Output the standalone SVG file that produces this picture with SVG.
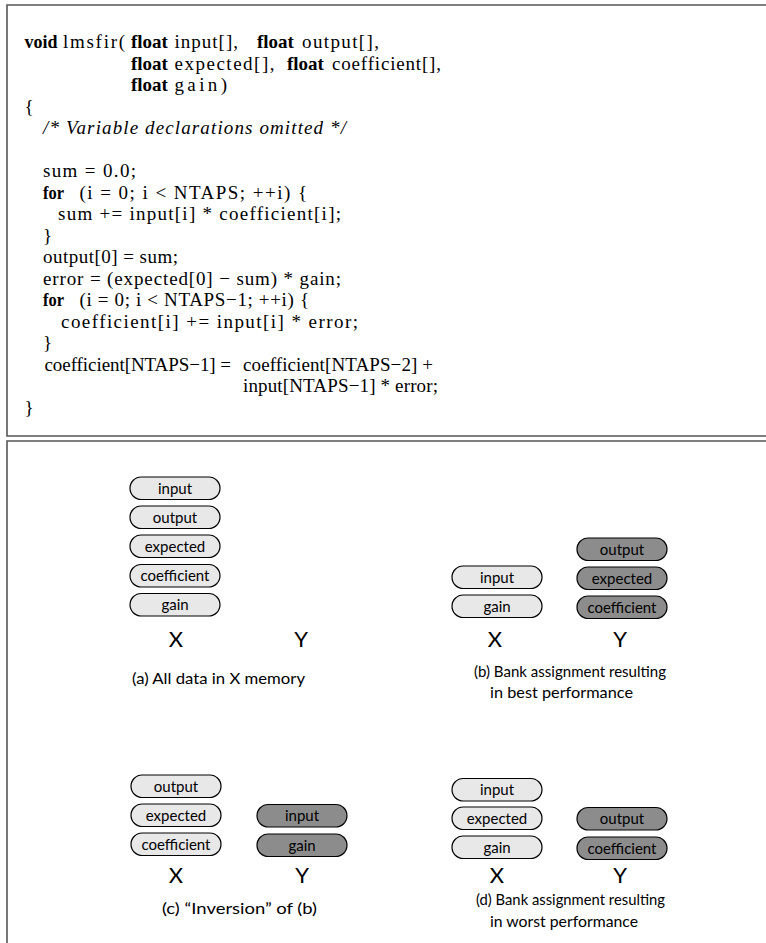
<svg xmlns="http://www.w3.org/2000/svg" width="766" height="943" viewBox="0 0 766 943">
<style>
.frame{fill:none;stroke:#555;stroke-width:1.6}
.c{font-family:"Liberation Serif",serif;font-size:19px;fill:#000}
.b{font-weight:bold}
.i{font-style:italic}
.pl{fill:#e8e8e8;stroke:#000;stroke-width:1.2}
.pd{fill:#8c8c8c;stroke:#000;stroke-width:1.2}
.pt{font-family:Lato,"Open Sans",sans-serif;font-size:15px;text-anchor:middle;fill:#000}
.xy{font-family:Lato,"Open Sans",sans-serif;font-size:22px;text-anchor:middle;fill:#000}
.cap{font-family:Lato,"Open Sans",sans-serif;font-size:16px;fill:#000}
</style>
<rect width="766" height="943" fill="#fff"/>
<path class="frame" d="M770 5H7V436H770"/>
<path class="frame" d="M770 441H7V950"/>

<g id="code">
<text class="c b" x="24.5" y="48" textLength="33" lengthAdjust="spacingAndGlyphs">void</text>
<text class="c" x="63" y="48" textLength="62" lengthAdjust="spacing">lmsfir(</text>
<text class="c b" x="131" y="48">float</text>
<text class="c" x="174.5" y="48" textLength="63.5" lengthAdjust="spacing">input[],</text>
<text class="c b" x="257" y="48">float</text>
<text class="c" x="302" y="48" textLength="77" lengthAdjust="spacing">output[],</text>

<text class="c b" x="131" y="69.5">float</text>
<text class="c" x="174.5" y="69.5" textLength="100" lengthAdjust="spacing">expected[],</text>
<text class="c b" x="287" y="69.5">float</text>
<text class="c" x="332" y="69.5" textLength="109" lengthAdjust="spacing">coefficient[],</text>

<text class="c b" x="131" y="91">float</text>
<text class="c" x="174.5" y="91" textLength="52.5" lengthAdjust="spacing">gain)</text>

<text class="c" x="24.5" y="112.5">{</text>
<text class="c i" x="43" y="134" textLength="303" lengthAdjust="spacing">/* Variable declarations omitted */</text>

<text class="c" x="43" y="177" textLength="93" lengthAdjust="spacing">sum = 0.0;</text>
<text class="c b" x="43" y="198.5" textLength="21" lengthAdjust="spacingAndGlyphs">for</text>
<text class="c" x="79.5" y="198.5" textLength="227.5" lengthAdjust="spacing">(i = 0; i &lt; NTAPS; ++i) {</text>
<text class="c" x="58" y="220" textLength="283" lengthAdjust="spacing">sum += input[i] * coefficient[i];</text>
<text class="c" x="43" y="241.5">}</text>
<text class="c" x="43" y="263" textLength="135" lengthAdjust="spacing">output[0] = sum;</text>
<text class="c" x="43" y="284.5" textLength="298" lengthAdjust="spacing">error = (expected[0] − sum) * gain;</text>
<text class="c b" x="43" y="306" textLength="21" lengthAdjust="spacingAndGlyphs">for</text>
<text class="c" x="79.5" y="306" textLength="229.5" lengthAdjust="spacing">(i = 0; i &lt; NTAPS−1; ++i) {</text>
<text class="c" x="61" y="327.5" textLength="297" lengthAdjust="spacing">coefficient[i] += input[i] * error;</text>
<text class="c" x="43" y="349">}</text>
<text class="c" x="44.5" y="370.5" textLength="186.5" lengthAdjust="spacing">coefficient[NTAPS−1] =</text>
<text class="c" x="243" y="370.5" textLength="190" lengthAdjust="spacing">coefficient[NTAPS−2] +</text>
<text class="c" x="243" y="392" textLength="195" lengthAdjust="spacing">input[NTAPS−1] * error;</text>
<text class="c" x="24.5" y="413.5">}</text>
</g>

<g id="connectors"/>

<!-- Panel (a) -->
<g id="a-input"><rect class="pl" x="130" y="477" width="90" height="22.5" rx="11.25"/><text class="pt" x="175" y="493.5">input</text></g>
<g id="a-output"><rect class="pl" x="130" y="506" width="90" height="22.5" rx="11.25"/><text class="pt" x="175" y="522.5">output</text></g>
<g id="a-expected"><rect class="pl" x="130" y="535" width="90" height="22.5" rx="11.25"/><text class="pt" x="175" y="551.5">expected</text></g>
<g id="a-coefficient"><rect class="pl" x="130" y="564.5" width="90" height="22.5" rx="11.25"/><text class="pt" x="175" y="581">coefficient</text></g>
<g id="a-gain"><rect class="pl" x="130" y="593.5" width="90" height="22.5" rx="11.25"/><text class="pt" x="175" y="610">gain</text></g>
<g id="a-labels"><text class="xy" x="176" y="647">X</text><text class="xy" x="301" y="647">Y</text>
<text class="cap" x="132" y="684" textLength="173" lengthAdjust="spacingAndGlyphs">(a) All data in X memory</text></g>

<!-- Panel (b) -->
<g id="b-input"><rect class="pl" x="452" y="566" width="90" height="22.5" rx="11.25"/><text class="pt" x="497" y="582.5">input</text></g>
<g id="b-gain"><rect class="pl" x="452" y="595" width="90" height="22.5" rx="11.25"/><text class="pt" x="497" y="611.5">gain</text></g>
<g id="b-output"><rect class="pd" x="577" y="538" width="90" height="22.5" rx="11.25"/><text class="pt" x="622" y="554.5">output</text></g>
<g id="b-expected"><rect class="pd" x="577" y="567" width="90" height="22.5" rx="11.25"/><text class="pt" x="622" y="583.5">expected</text></g>
<g id="b-coefficient"><rect class="pd" x="577" y="596" width="90" height="22.5" rx="11.25"/><text class="pt" x="622" y="612.5">coefficient</text></g>
<g id="b-labels"><text class="xy" x="495" y="647">X</text><text class="xy" x="620" y="647">Y</text>
<text class="cap" x="474" y="677" textLength="192" lengthAdjust="spacingAndGlyphs">(b) Bank assignment resulting</text>
<text class="cap" x="490" y="698" textLength="143" lengthAdjust="spacingAndGlyphs">in best performance</text></g>

<!-- Panel (c) -->
<g id="c-output"><rect class="pl" x="131" y="775" width="90" height="22.5" rx="11.25"/><text class="pt" x="176" y="791.5">output</text></g>
<g id="c-expected"><rect class="pl" x="131" y="804" width="90" height="22.5" rx="11.25"/><text class="pt" x="176" y="820.5">expected</text></g>
<g id="c-coefficient"><rect class="pl" x="131" y="833" width="90" height="22.5" rx="11.25"/><text class="pt" x="176" y="849.5">coefficient</text></g>
<g id="c-input"><rect class="pd" x="257" y="804.5" width="90" height="22.5" rx="11.25"/><text class="pt" x="302" y="821">input</text></g>
<g id="c-gain"><rect class="pd" x="257" y="834" width="90" height="22.5" rx="11.25"/><text class="pt" x="302" y="850.5">gain</text></g>
<g id="c-labels"><text class="xy" x="176" y="883">X</text><text class="xy" x="302" y="883">Y</text>
<text class="cap" x="162" y="914" textLength="155" lengthAdjust="spacingAndGlyphs">(c) “Inversion” of (b)</text></g>

<!-- Panel (d) -->
<g id="d-input"><rect class="pl" x="452" y="778.5" width="90" height="22.5" rx="11.25"/><text class="pt" x="497" y="795">input</text></g>
<g id="d-expected"><rect class="pl" x="452" y="807" width="90" height="22.5" rx="11.25"/><text class="pt" x="497" y="823.5">expected</text></g>
<g id="d-gain"><rect class="pl" x="452" y="836" width="90" height="22.5" rx="11.25"/><text class="pt" x="497" y="852.5">gain</text></g>
<g id="d-output"><rect class="pd" x="577" y="807.5" width="90" height="22.5" rx="11.25"/><text class="pt" x="622" y="824">output</text></g>
<g id="d-coefficient"><rect class="pd" x="577" y="837" width="90" height="22.5" rx="11.25"/><text class="pt" x="622" y="853.5">coefficient</text></g>
<g id="d-labels"><text class="xy" x="497" y="883">X</text><text class="xy" x="620" y="883">Y</text>
<text class="cap" x="476" y="905" textLength="189" lengthAdjust="spacingAndGlyphs">(d) Bank assignment resulting</text>
<text class="cap" x="490" y="927" textLength="148" lengthAdjust="spacingAndGlyphs">in worst performance</text></g>
</svg>
